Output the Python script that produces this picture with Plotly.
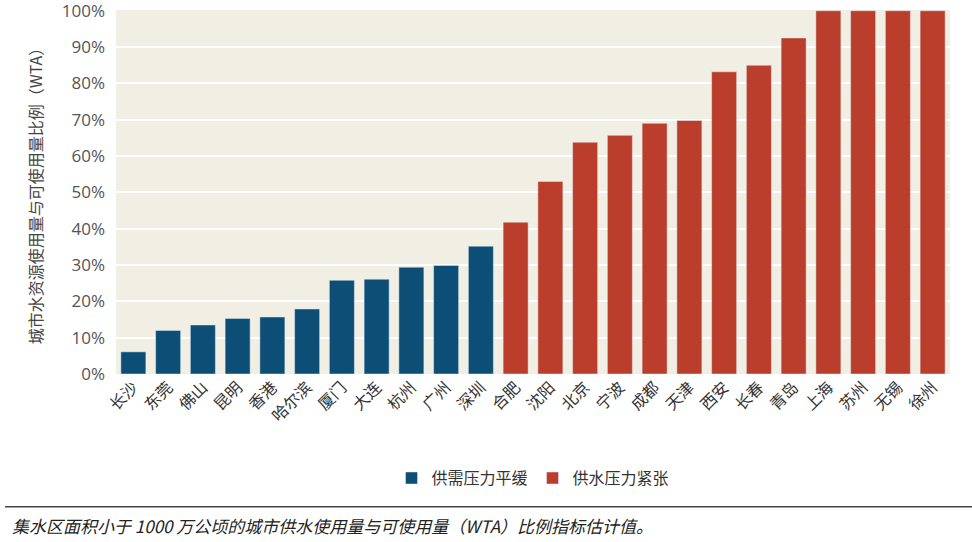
import plotly.graph_objects as go

cities_low = ["长沙", "东莞", "佛山", "昆明", "香港", "哈尔滨", "厦门", "大连", "杭州", "广州", "深圳"]
wta_low = [6.1, 12.0, 13.5, 15.3, 15.7, 17.9, 25.8, 26.1, 29.4, 29.9, 35.2]
cities_high = ["合肥", "沈阳", "北京", "宁波", "成都", "天津", "西安", "长春", "青岛", "上海", "苏州", "无锡", "徐州"]
wta_high = [41.8, 53.0, 63.8, 65.7, 69.0, 69.8, 83.2, 85.0, 92.5, 100, 100, 100, 100]
y_ticks = [0, 10, 20, 30, 40, 50, 60, 70, 80, 90, 100]
y_tick_labels = [f"{v}%" for v in y_ticks]

FONT = "Noto Sans CJK SC, sans-serif"
BLUE = "#0D4E76"
RED = "#BA3E2B"

fig = go.Figure()
fig.add_trace(go.Bar(x=cities_low, y=wta_low, name="供需压力平缓", marker_color=BLUE))
fig.add_trace(go.Bar(x=cities_high, y=wta_high, name="供水压力紧张", marker_color=RED))

fig.update_layout(
    width=972, height=542,
    margin=dict(l=116, r=22, t=10, b=168),
    paper_bgcolor="white",
    plot_bgcolor="#F1EEE3",
    bargap=0.28,
    font=dict(family=FONT, color="#333333"),
    showlegend=True,
    legend=dict(orientation="h", x=0.5, xanchor="center", y=-0.286, yanchor="middle",
                font=dict(size=16, color="#333333"), itemwidth=30, traceorder="normal"),
    xaxis=dict(categoryorder="array", categoryarray=cities_low + cities_high,
               tickangle=-45, tickfont=dict(size=16, color="#333333"), showgrid=False,
               ticks="", ticklen=0, automargin=False),
    yaxis=dict(range=[0, 100.2], tickvals=y_ticks, ticktext=y_tick_labels,
               tickfont=dict(size=17, color="#555555", family="Open Sans, sans-serif"),
               gridcolor="white", gridwidth=2, zeroline=False, automargin=False,
               ticklabelstandoff=10, ticklabeloverflow="allow",
               title=dict(text="城市水资源使用量与可使用量比例（WTA）", font=dict(size=16, color="#444444"),
                          standoff=15)),
)

fig.add_shape(type="line", xref="paper", yref="paper",
              x0=-0.133, x1=1.03, y0=-0.365, y1=-0.365,
              line=dict(color="#444444", width=1.5))
fig.add_annotation(text="<i>集水区面积小于 1000 万公顷的城市供水使用量与可使用量（WTA）比例指标估计值。</i>",
                   xref="paper", yref="paper", x=-0.127, y=-0.415, xanchor="left", yanchor="middle",
                   showarrow=False, font=dict(size=17, color="#222222", family=FONT))

fig.write_html("out.html", config={"displayModeBar": False},
               post_script="document.body.style.margin='0';document.body.style.overflow='hidden';")
